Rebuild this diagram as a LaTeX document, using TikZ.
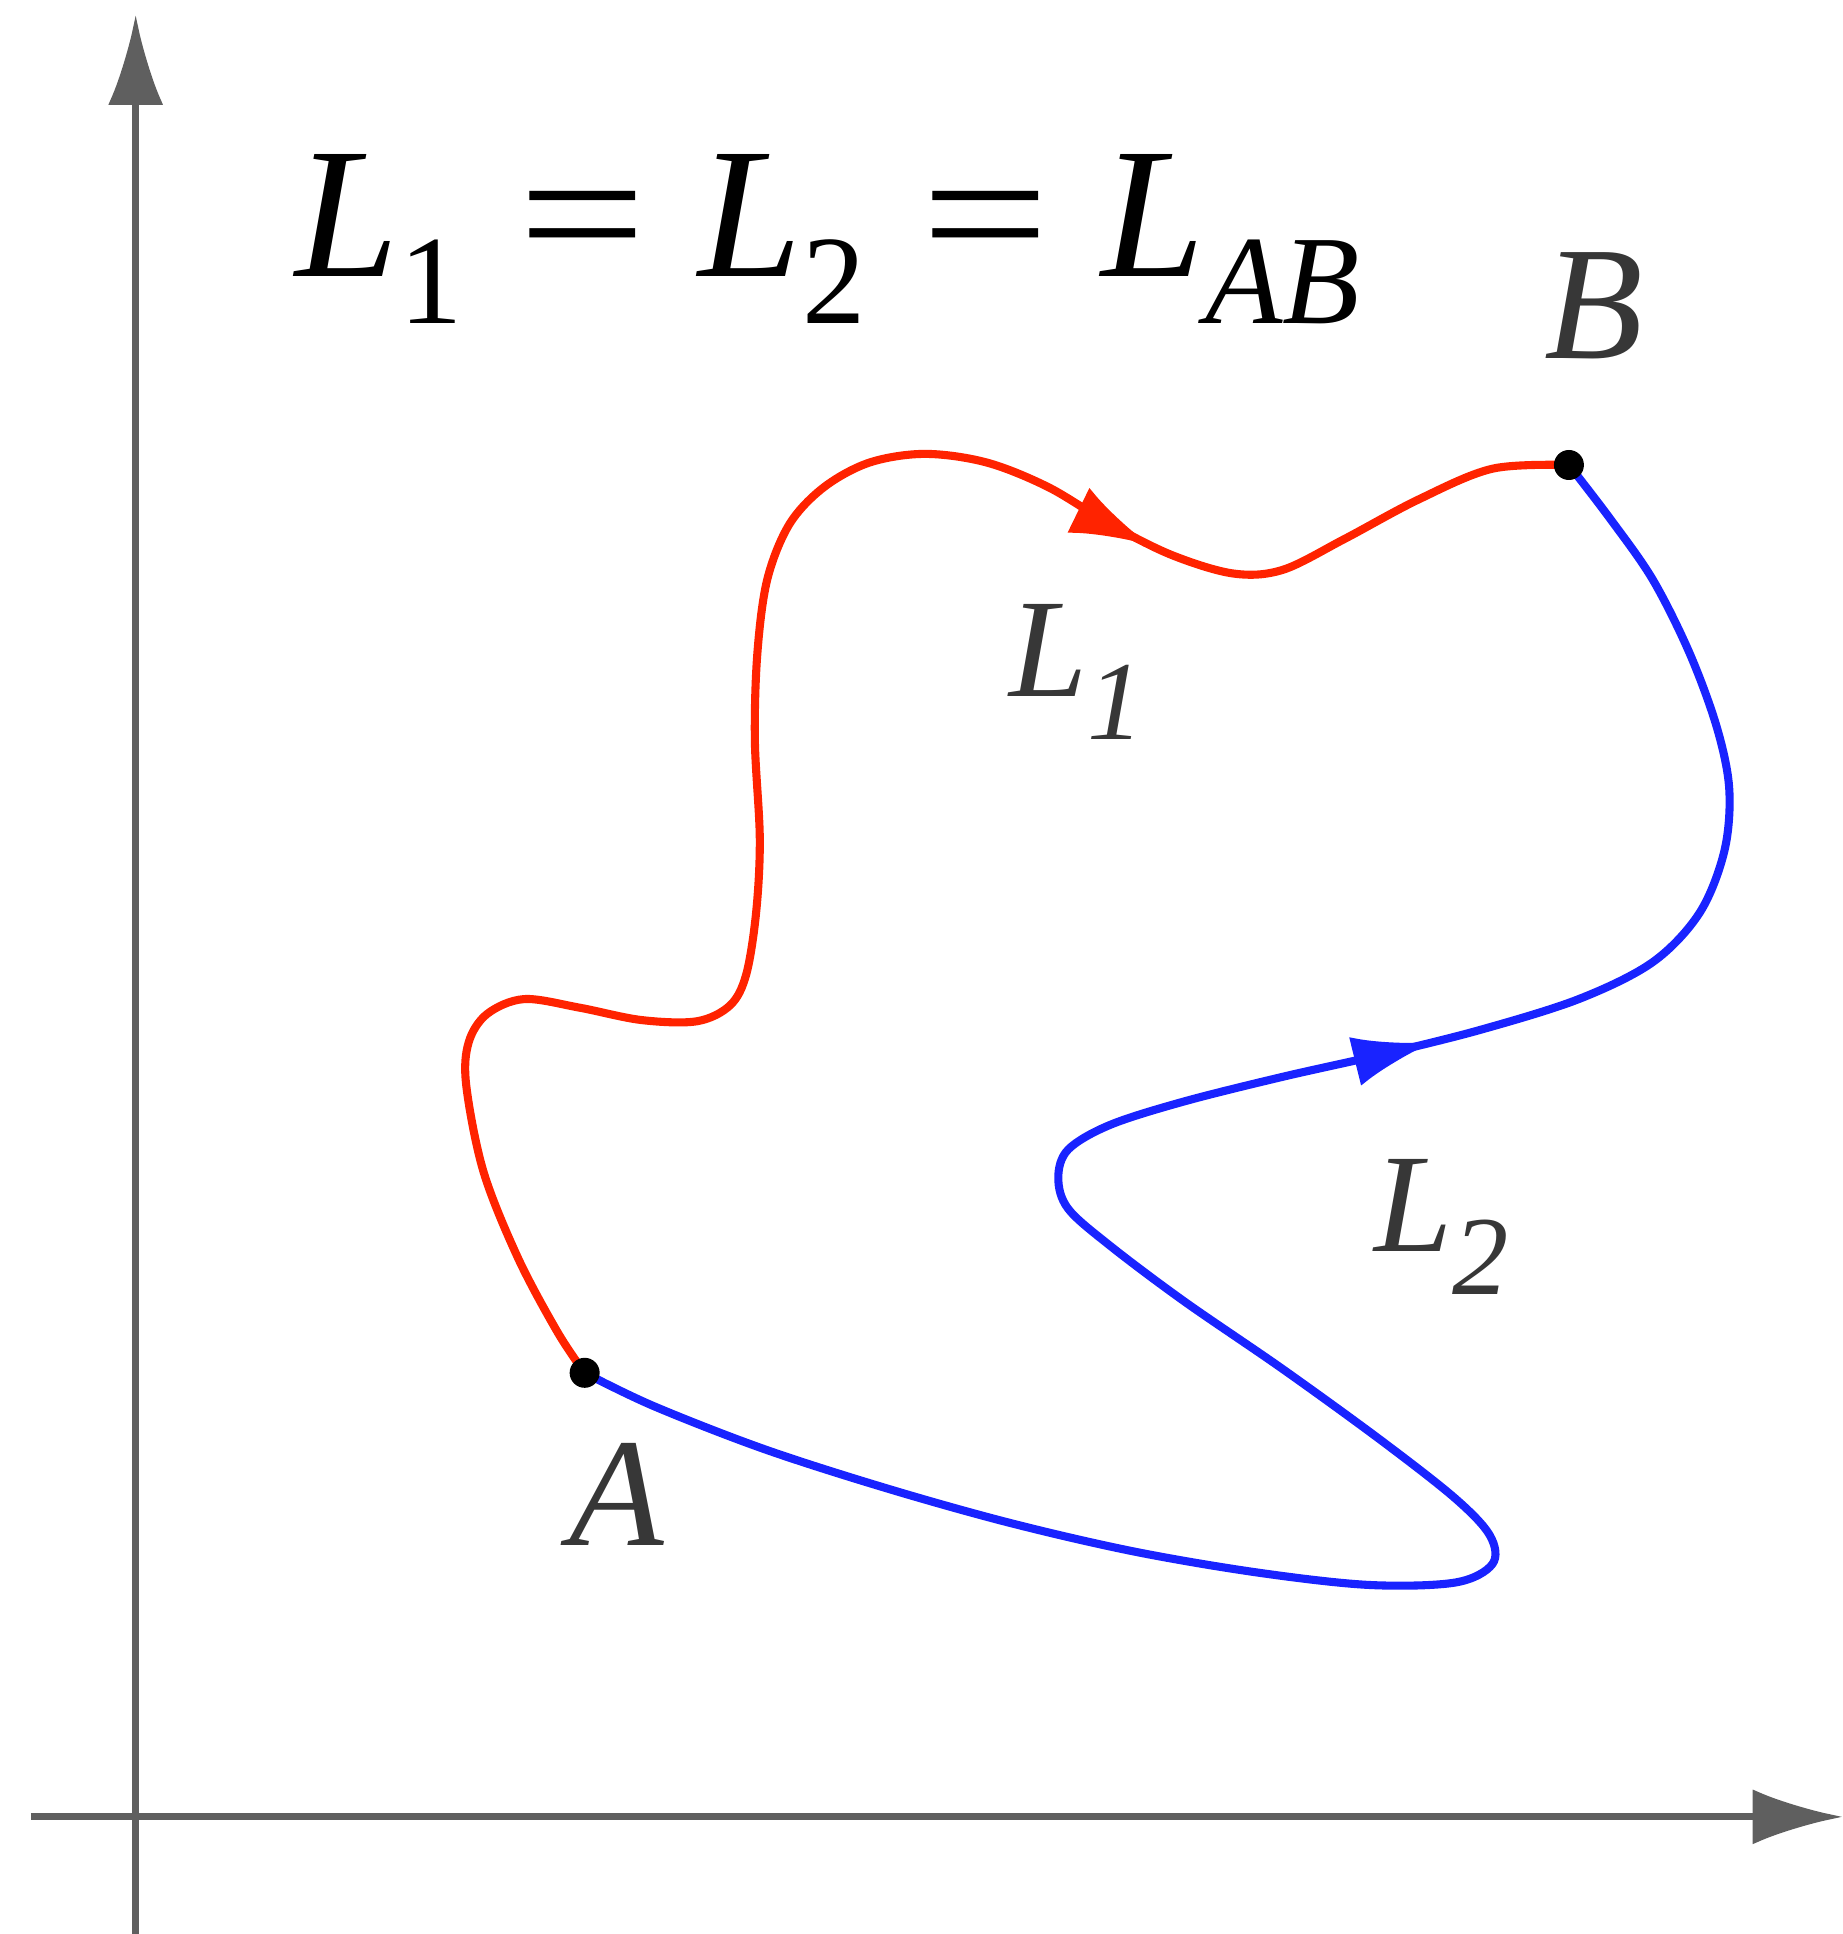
\documentclass[tikz,border=0pt]{standalone}
\usepackage{fontspec}
\setmainfont{Liberation Serif}
\usetikzlibrary{arrows.meta,decorations.markings}
\definecolor{axisgray}{RGB}{95,95,95}
\definecolor{curvered}{RGB}{255,35,0}
\definecolor{curveblue}{RGB}{25,35,255}
\definecolor{labelgray}{RGB}{55,55,55}
\newcommand{\eqsub}[1]{\raisebox{-13.3pt}{\fontsize{36}{38}\selectfont #1}}
\newcommand{\eqsign}{\hspace{0.3em}\scalebox{1.22}[1]{=}\hspace{0.28em}}
\tikzset{
  axisline/.style={axisgray, line width=2pt, -{Latex[length=0.9cm,width=0.55cm]}},
  curveline/.style={line width=2.3pt},
  endpoint/.style={circle, fill=black, inner sep=0pt, minimum size=0.3cm},
  curvelabel/.style={labelgray, font=\fontsize{40}{44}\selectfont\itshape, inner sep=0pt},
  midarrow/.style={postaction={decorate, decoration={markings,
      mark=at position #1 with {\arrow{Latex[length=0.8cm,width=0.5cm]}}}}}
}
\begin{document}
\begin{tikzpicture}[x=0.012336cm, y=-0.012336cm]
\useasboundingbox (0,0) rectangle (1494,1568);
% axes
\coordinate (o1) at (110,1568);
\coordinate (ytip) at (110,12);
\coordinate (o2) at (25,1473);
\coordinate (xtip) at (1494,1473);
\draw[axisline] (o1) -- (ytip);
\draw[axisline] (o2) -- (xtip);
% end points
\coordinate (A) at (474,1113);
\coordinate (B) at (1272,377);
% L1 (red)
\draw[curveline, curvered, midarrow=0.775] plot[smooth, tension=0.55] coordinates {
 (A) (452,1080) (420,1020) (392,950) (378,880) (380,845) (395,822) (425,810)
 (470,817) (520,827) (565,828) (592,815) (605,790) (613,740) (616,680) (612,600)
 (614,530) (622,470) (640,425) (668,395) (705,375) (750,368) (800,375) (850,395)
 (900,425) (950,450) (1000,465) (1040,462) (1090,437) (1150,405) (1210,380) (B)};
% L2 (blue)
\draw[curveline, curveblue, midarrow=0.71] plot[smooth, tension=0.55] coordinates {
 (A) (530,1140) (620,1175) (720,1207) (820,1235) (920,1258) (1020,1275) (1110,1285)
 (1180,1283) (1210,1268) (1208,1245) (1180,1215) (1120,1168) (1040,1110) (960,1055)
 (900,1010) (866,980) (858,955) (866,932) (900,912) (960,893) (1040,873) (1120,855)
 (1200,835) (1280,810) (1340,780) (1378,740) (1398,690) (1402,640) (1392,590)
 (1370,530) (1340,470) (1305,420) (B)};
\node[endpoint] (Adot) at (A) {};
\node[endpoint] (Bdot) at (B) {};
% labels
\node[curvelabel, font=\fontsize{44}{48}\selectfont\itshape] (Alab) at (500,1212) {A};
\node[curvelabel, font=\fontsize{46}{50}\selectfont\itshape] (Blab) at (1292,248) {B};
\node[curvelabel, anchor=base west] (L1lab) at (818,565) {L\raisebox{-0.3em}{\fontsize{32}{34}\selectfont 1}};
\node[curvelabel, anchor=base west] (L2lab) at (1114,1015) {L\raisebox{-0.3em}{\fontsize{32}{34}\selectfont 2}};
\node[anchor=base west, inner sep=0pt, font=\fontsize{53}{58}\selectfont] (eq) at (239,224)
 {\textit{L}\eqsub{1}\eqsign\textit{L}\eqsub{2}\eqsign\textit{L}\eqsub{\itshape AB}};
\end{tikzpicture}
\end{document}
